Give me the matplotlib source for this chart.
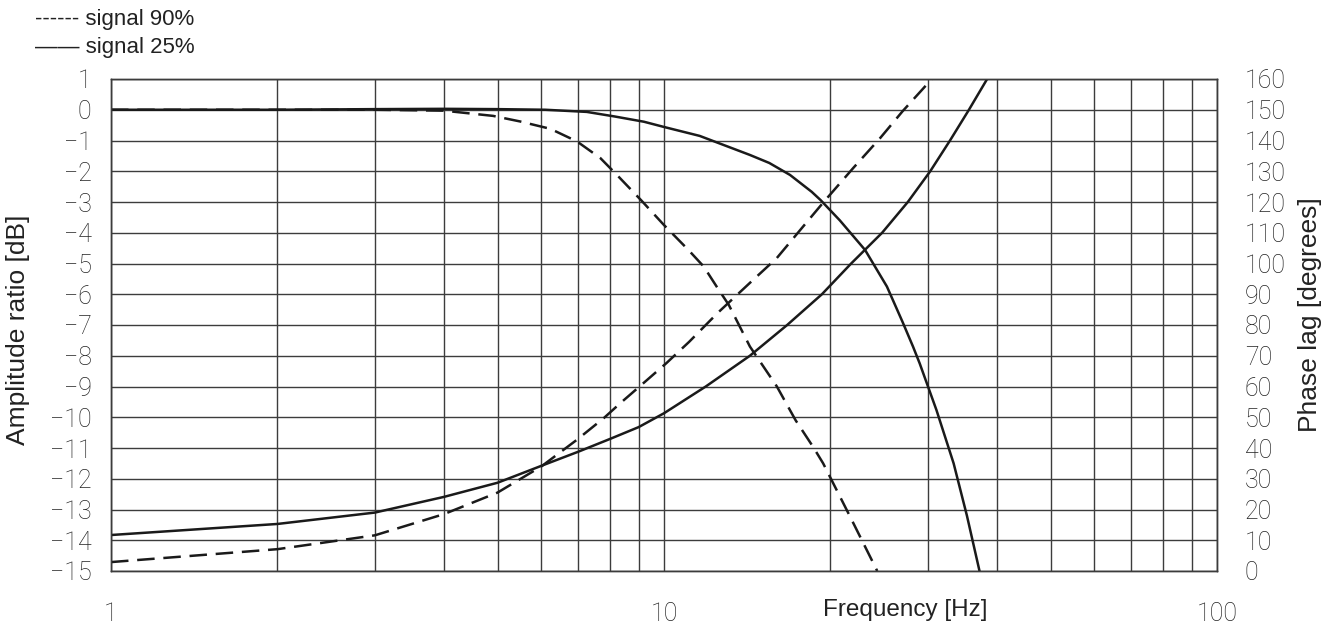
import matplotlib
matplotlib.use('Agg')
import matplotlib.pyplot as plt

# values
# amplitude ratio [dB], signal 25% (solid)
freq_amp25 = [1, 2, 3, 4, 5, 6.1, 7.25, 8.15, 9.2, 10, 11.6, 14.3, 15.5,
              16.9, 18.5, 19.2, 20.8, 23.1, 25.3, 27.0, 28.2, 29.0, 31.1,
              33.4, 35.3, 37.2]
amp25 = [0, 0, 0.02, 0.03, 0.02, 0, -0.07, -0.22, -0.39, -0.56, -0.85, -1.47,
         -1.73, -2.12, -2.67, -2.94, -3.6, -4.56, -5.75, -6.9, -7.7, -8.25,
         -9.77, -11.5, -13.2, -15.0]

# amplitude ratio [dB], signal 90% (dashed)
freq_amp90 = [1, 2, 3, 4, 4.91, 5.49, 6.23, 6.96, 7.67, 8.22, 9.1, 10,
              11.07, 11.8, 12.45, 13.1, 14.3, 16.0, 17.3, 18.6, 19.4, 21.7,
              24.3]
amp90 = [0, 0, 0, -0.03, -0.2, -0.38, -0.62, -1.03, -1.57, -2.12, -2.95,
         -3.75, -4.56, -5.1, -5.75, -6.35, -7.7, -9.0, -10.1, -10.96, -11.5,
         -13.23, -15.0]

# phase lag [degrees], signal 25% (solid)
freq_ph25 = [1, 2, 3, 4, 5, 6, 7, 8, 9, 10, 11.9, 14.3, 16.7, 19.3, 21.8,
             24.8, 27.6, 30.3, 32.9, 35.6, 38.4]
ph25 = [11.7, 15.3, 19.0, 24.1, 28.7, 34.2, 38.8, 43.0, 46.8, 51.3, 60, 70,
        80, 90, 100, 110, 120, 130, 140, 150, 160]

# phase lag [degrees], signal 90% (dashed)
freq_ph90 = [1, 2, 3, 4, 5, 6, 6.95, 7.78, 8.34, 9.18, 10.1, 11.1, 12.5,
             14.3, 16.0, 17.9, 19.4, 22.0, 24.6, 27.0, 30.5]
ph90 = [2.9, 7.1, 11.6, 18.5, 25.5, 34.0, 42.6, 49.7, 54.6, 61.1, 67.6, 74.5,
        83.9, 93.7, 101.8, 112.3, 119.8, 131.1, 140.8, 149.5, 160]

amp_ticks = list(range(-15, 2))
phase_ticks = list(range(0, 170, 10))
freq_major = [1, 10, 100]
freq_minor = [2, 3, 4, 5, 6, 7, 8, 9, 20, 30, 40, 50, 60, 70, 80, 90]

plt.rcParams['font.family'] = ['Liberation Sans', 'DejaVu Sans']

W, H = 1335, 631
fig = plt.figure(figsize=(W / 100, H / 100), dpi=100)
ax = fig.add_axes([111 / W, 1 - 571 / H, 1106 / W, 492 / H])
ax2 = ax.twinx()

ink = '#1a1a1a'
grid_col = '#3c3c3c'
dash = (0, (7, 3.5))

ax.set_xscale('log')
ax.set_xlim(1, 100)
ax.set_ylim(-15, 1)
ax2.set_ylim(0, 160)

ax.plot(freq_amp25, amp25, color=ink, lw=1.8)
ax.plot(freq_amp90, amp90, color=ink, lw=1.8, ls=dash)
ax2.plot(freq_ph25, ph25, color=ink, lw=1.8)
ax2.plot(freq_ph90, ph90, color=ink, lw=1.8, ls=dash)

# thin numerals, close to the drawing's technical lettering
tick_font = dict(fontfamily=['Roboto', 'DejaVu Sans'], fontweight='light',
                 fontsize=18, color='#222222')

amp_labels = [str(v) if v >= 0 else '\u2212' + str(-v) for v in amp_ticks]
ax.set_yticks(amp_ticks, labels=amp_labels, **tick_font)
ax2.set_yticks(phase_ticks, labels=[str(v) for v in phase_ticks], **tick_font)
ax.set_xticks(freq_major, labels=[str(v) for v in freq_major], **tick_font)
ax.set_xticks(freq_minor, minor=True)
ax.set_xticklabels([], minor=True)

ax.tick_params(axis='both', which='both', length=0)
ax.tick_params(axis='y', pad=14)
ax.tick_params(axis='x', pad=22)
ax2.tick_params(axis='y', length=0, pad=20)

ax.grid(True, which='both', color=grid_col, lw=1.0)
for a in (ax, ax2):
    for s in a.spines.values():
        s.set_color(grid_col)
        s.set_linewidth(1.0)

fig.text(18 / W, 1 - 330 / H, 'Amplitude ratio [dB]', rotation=90,
         ha='center', va='center', fontsize=19, color='#222222')
fig.text(1310 / W, 1 - 315 / H, 'Phase lag [degrees]', rotation=90,
         ha='center', va='center', fontsize=19, color='#222222')
fig.text(905 / W, 1 - 610 / H, 'Frequency [Hz]', ha='center', va='center',
         fontsize=17.5, color='#222222')

# legend drawn as text, as in the original drawing
fig.text(35 / W, 1 - 19 / H, '------ signal 90%', ha='left', va='center',
         fontsize=16, color='#222222')
fig.text(35 / W, 1 - 48 / H, '\u2014\u2014 signal 25%', ha='left',
         va='center', fontsize=16, color='#222222')

fig.savefig('out.png', dpi=100)
